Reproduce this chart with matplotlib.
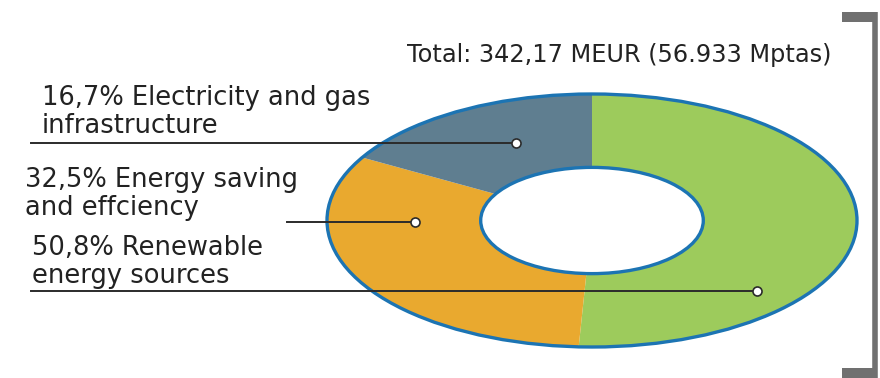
import matplotlib
matplotlib.use("Agg")
import matplotlib.pyplot as plt
from matplotlib.patches import Circle

# Data
categories = ["Renewable energy sources", "Energy saving and effciency", "Electricity and gas infrastructure"]
shares = [50.8, 32.5, 16.7]
label_texts = ["50,8% Renewable\nenergy sources",
               "32,5% Energy saving\nand effciency",
               "16,7% Electricity and gas\ninfrastructure"]
title_text = "Total: 342,17 MEUR (56.933 Mptas)"
colors = ["#9dcb5c", "#e9a92f", "#5f7e90"]
edge_blue = "#1c74b3"

W, H = 880, 378
fig = plt.figure(figsize=(W / 100, H / 100), dpi=100)
fig.patch.set_facecolor("white")

# Donut axes (elliptical because aspect is auto)
ax = fig.add_axes([327 / W, 31 / H, 530 / W, 253 / H])
ring_w = 0.58
ax.pie(shares, colors=colors, startangle=90, counterclock=False,
       radius=1.0, wedgeprops=dict(width=ring_w, linewidth=0))
ax.set_aspect("auto")
ax.set_xlim(-1.0, 1.0)
ax.set_ylim(-1.0, 1.0)
ax.add_patch(Circle((0, 0), 1.0, fill=False, edgecolor=edge_blue, lw=2.4,
                    zorder=5, clip_on=False))
ax.add_patch(Circle((0, 0), 1.0 - ring_w, fill=False, edgecolor=edge_blue, lw=2.4,
                    zorder=5, clip_on=False))
ax.axis("off")

# Overlay axes in pixel coordinates for labels, leaders and bracket
ov = fig.add_axes([0, 0, 1, 1], facecolor="none")
ov.set_xlim(0, W)
ov.set_ylim(H, 0)
ov.axis("off")

# leader lines: (x_start, x_end, y)
leaders = [(31, 757, 291), (287, 415, 222), (31, 516, 143)]
for (x0, x1, y) in leaders:
    ov.plot([x0, x1], [y, y], color="#2b2b2b", lw=1.4, zorder=6)
    ov.plot([x1], [y], marker="o", ms=6.5, mfc="white", mec="#2b2b2b", mew=1.2, zorder=7)

# labels: (x, baseline of last line)
label_pos = [(32, 283), (25, 215), (42, 133)]
fs = 18.5
for (x, y), t in zip(label_pos, label_texts):
    ov.text(x, y, t, fontsize=fs, color="#222222", ha="left", va="baseline",
            linespacing=1.08, family="DejaVu Sans")

ov.text(407, 62, title_text, fontsize=17.3, color="#222222", ha="left", va="baseline",
        family="DejaVu Sans")

# bracket on the right
bc = "#707070"
ov.plot([874.5, 874.5], [12, 378], color=bc, lw=4, solid_capstyle="butt")
ov.fill_between([842, 877], [12, 12], [22, 22], color=bc, lw=0)
ov.fill_between([842, 877], [368, 368], [378, 378], color=bc, lw=0)

fig.savefig("out.png", dpi=100, facecolor="white")
